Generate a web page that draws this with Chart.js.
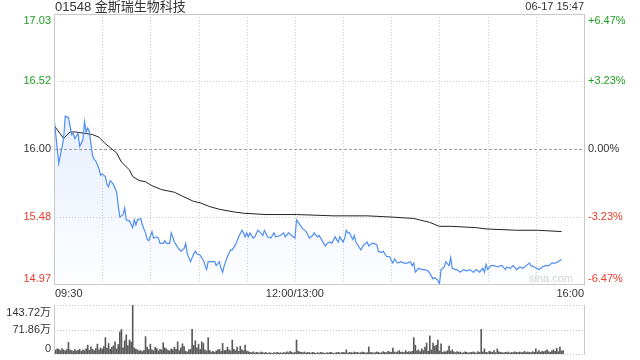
<!DOCTYPE html>
<html lang="zh-CN">
<head>
<meta charset="UTF-8">
<title>01548 金斯瑞生物科技</title>
<script src="https://cdn.jsdelivr.net/npm/chart.js"></script>
<style>
  html, body { margin: 0; padding: 0; background: #fff; }
  #wrap { position: relative; width: 640px; height: 360px; overflow: hidden; }
  #priceChart { position: absolute; left: 0; top: 0; }
  #volChart { position: absolute; left: 0; top: 300px; }
</style>
</head>
<body>
<div id="wrap">
  <canvas id="priceChart" width="640" height="300"></canvas>
  <canvas id="volChart" width="640" height="60"></canvas>
</div>
<script>
const title = '01548 金斯瑞生物科技';
const stamp = '06-17 15:47';
const prevClose = 16.00;
const priceTicks = [17.03, 16.52, 16.00, 15.48, 14.97];
const pctTicks = ['+6.47%', '+3.23%', '0.00%', '-3.23%', '-6.47%'];
const timeLabels = ['09:30', '12:00/13:00', '16:00'];
const timeLabelMinutes = [0, 150, 330];
const volTicks = [143.72, 71.86, 0];
const volTickLabels = ['143.72万', '71.86万', '0'];

// minutes since 09:30 with the lunch break cut out (150 = 12:00/13:00, 330 = 16:00)
const priceMinutes = [0, 3, 6, 7, 9, 11, 12, 13, 15, 16, 18, 19, 20, 21, 22, 24, 25, 26, 28, 29,
  30, 32, 33, 34, 35, 37, 39, 40, 41, 43, 44, 45, 47, 49, 50, 51, 52, 54, 55, 57,
  58, 59, 61, 62, 64, 65, 66, 68, 69, 70, 72, 73, 75, 77, 79, 81, 82, 83, 85, 87,
  88, 89, 91, 93, 95, 96, 98, 100, 101, 103, 104, 105, 106, 108, 110, 111, 113, 115, 117, 118,
  119, 120, 121, 122, 124, 125, 127, 128, 130, 131, 133, 135, 137, 138, 141, 143, 144, 146, 148, 150,
  151, 152, 155, 157, 159, 161, 162, 164, 165, 166, 169, 170, 172, 173, 175, 177, 178, 180, 181, 182,
  183, 184, 186, 187, 188, 190, 191, 193, 195, 196, 198, 199, 201, 202, 204, 205, 207, 209, 210, 211,
  212, 214, 216, 218, 220, 222, 223, 224, 225, 227, 229, 231, 233, 235, 236, 237, 239, 240, 241, 243,
  244, 246, 247, 248, 250, 251, 253, 255, 257, 259, 261, 263, 265, 267, 268, 269, 270, 272, 274, 276,
  278, 279, 281, 282, 284, 286, 288, 290, 292, 294, 296, 297, 299, 302, 304, 306, 308, 310, 312, 314, 316];
const prices = [16.24, 15.89, 16.08, 16.25, 16.24, 16.11, 16.12, 16.08, 16.12, 16.02, 16.07, 16.21, 16.13, 16.16, 16.13, 15.95, 15.92, 15.91, 15.85, 15.80,
  15.81, 15.79, 15.73, 15.71, 15.76, 15.73, 15.67, 15.57, 15.48, 15.50, 15.55, 15.46, 15.45, 15.40, 15.46, 15.42, 15.46, 15.47, 15.42, 15.36,
  15.31, 15.30, 15.37, 15.32, 15.33, 15.32, 15.28, 15.28, 15.30, 15.28, 15.28, 15.36, 15.29, 15.25, 15.22, 15.24, 15.28, 15.20, 15.14, 15.20,
  15.22, 15.20, 15.19, 15.15, 15.08, 15.14, 15.14, 15.14, 15.11, 15.14, 15.09, 15.06, 15.11, 15.18, 15.23, 15.23, 15.27, 15.33, 15.38, 15.36,
  15.33, 15.36, 15.33, 15.36, 15.32, 15.33, 15.38, 15.37, 15.34, 15.38, 15.33, 15.32, 15.36, 15.33, 15.34, 15.36, 15.33, 15.36, 15.34, 15.32,
  15.46, 15.44, 15.39, 15.37, 15.32, 15.34, 15.36, 15.33, 15.34, 15.32, 15.26, 15.28, 15.29, 15.28, 15.33, 15.29, 15.33, 15.29, 15.32, 15.38,
  15.36, 15.36, 15.31, 15.34, 15.29, 15.25, 15.23, 15.27, 15.29, 15.26, 15.28, 15.28, 15.27, 15.22, 15.21, 15.22, 15.18, 15.18, 15.15, 15.13,
  15.16, 15.13, 15.14, 15.13, 15.13, 15.14, 15.11, 15.13, 15.06, 15.09, 15.08, 15.08, 15.07, 15.03, 15.01, 15.02, 15.00, 14.97, 15.08, 15.10,
  15.14, 15.11, 15.17, 15.09, 15.08, 15.08, 15.06, 15.08, 15.07, 15.08, 15.06, 15.08, 15.06, 15.09, 15.06, 15.12, 15.08, 15.11, 15.11, 15.10,
  15.11, 15.11, 15.08, 15.10, 15.09, 15.11, 15.08, 15.10, 15.09, 15.11, 15.13, 15.11, 15.10, 15.08, 15.10, 15.11, 15.11, 15.13, 15.13, 15.14, 15.16];

const avgMinutes = [0, 6, 10, 13, 19, 24, 28, 32, 35, 39, 42, 47, 49, 53, 57, 61, 67, 75, 80, 87,
  91, 97, 103, 112, 118, 132, 151, 174, 195, 211, 224, 234, 240, 247, 263, 269, 288, 301, 316];
const avgPrices = [16.18, 16.08, 16.13, 16.13, 16.12, 16.11, 16.09, 16.04, 16.01, 15.97, 15.90, 15.84, 15.79, 15.76, 15.75, 15.72, 15.69, 15.67, 15.64, 15.60,
  15.59, 15.56, 15.54, 15.52, 15.51, 15.50, 15.50, 15.49, 15.49, 15.48, 15.47, 15.44, 15.41, 15.41, 15.40, 15.39, 15.38, 15.38, 15.37];

// one bar per minute, unit 万 shares
const volumes = [
  48, 12, 15, 14, 10, 16, 12, 9, 14, 34,
  12, 10, 8, 13, 9, 11, 14, 8, 12, 10,
  15, 26, 11, 21, 14, 10, 16, 29, 12, 18,
  14, 22, 48, 17, 31, 14, 20, 24, 36, 15,
  28, 65, 72, 18, 39, 56, 25, 41, 35, 143.72,
  18, 14, 12, 9, 10, 7, 11, 51, 20, 13,
  29, 12, 10, 20, 16, 9, 14, 12, 33, 18,
  15, 11, 9, 15, 12, 20, 14, 36, 10, 18,
  30, 22, 8, 6, 12, 14, 72, 25, 39, 18,
  29, 14, 36, 31, 12, 9, 48, 10, 6, 8,
  5, 9, 12, 14, 8, 31, 10, 11, 20, 12,
  9, 41, 14, 10, 20, 8, 23, 12, 10, 26,
  9, 7, 5, 4, 6, 3, 5, 4, 3, 6,
  4, 3, 5, 2, 4, 3, 2, 4, 3, 5,
  3, 4, 2, 5, 3, 6, 4, 8, 5, 3,
  5, 41, 8, 6, 5, 4, 6, 3, 5, 4,
  3, 5, 4, 2, 4, 3, 5, 4, 3, 2,
  4, 3, 5, 4, 2, 3, 4, 5, 3, 4,
  5, 4, 12, 3, 5, 4, 3, 6, 4, 5,
  3, 4, 6, 5, 3, 4, 21, 5, 4, 3,
  4, 6, 5, 3, 4, 7, 5, 4, 8, 6,
  5, 17, 6, 4, 7, 10, 5, 6, 4, 10,
  5, 7, 6, 8, 48, 26, 9, 12, 7, 15,
  10, 20, 32, 8, 53, 12, 32, 23, 26, 41,
  9, 30, 5, 7, 6, 10, 23, 8, 12, 6,
  4, 7, 5, 6, 3, 4, 6, 5, 3, 4,
  5, 6, 4, 3, 7, 5, 72, 6, 15, 5,
  4, 8, 6, 5, 10, 4, 15, 6, 5, 4,
  3, 5, 4, 6, 3, 5, 4, 6, 5, 4,
  6, 4, 5, 8, 4, 6, 5, 4, 7, 5,
  15, 6, 10, 5, 8, 6, 9, 12, 7, 5,
  9, 12, 8, 17, 7, 20, 9, 10];

const GREEN = '#1e9e1e';
const RED = '#ea3a2c';
const TEXT = '#333';
const FONT = "'Liberation Sans', Arial, 'Noto Sans CJK SC', sans-serif";

function tickColor(v) {
  if (v > prevClose) return GREEN;
  if (v < prevClose) return RED;
  return TEXT;
}

function hline(ctx, x1, x2, y) {
  ctx.beginPath(); ctx.moveTo(x1, y); ctx.lineTo(x2, y); ctx.stroke();
}
function vline(ctx, x, y1, y2) {
  ctx.beginPath(); ctx.moveTo(x, y1); ctx.lineTo(x, y2); ctx.stroke();
}

const priceFrame = {
  id: 'priceFrame',
  beforeDatasetsDraw(chart) {
    const { ctx, chartArea: a, scales: { x, y } } = chart;
    ctx.save();
    ctx.lineWidth = 1;
    ctx.strokeStyle = '#cfcfcf';
    ctx.setLineDash([1, 2]);
    for (let m = 30; m < 330; m += 30) {
      const px = Math.round(x.getPixelForValue(m)) + 0.5;
      vline(ctx, px, a.top, a.bottom);
    }
    priceTicks.forEach((v, i) => {
      if (i === 0 || i === priceTicks.length - 1) return;
      const py = Math.round(y.getPixelForValue(v)) + 0.5;
      if (v === prevClose) {
        ctx.strokeStyle = '#a0a0a0';
        ctx.setLineDash([3, 2]);
      } else {
        ctx.strokeStyle = '#cfcfcf';
        ctx.setLineDash([1, 2]);
      }
      hline(ctx, a.left, a.right, py);
    });
    // watermark
    ctx.setLineDash([]);
    ctx.fillStyle = '#d4d4d4';
    ctx.font = '11px ' + FONT;
    ctx.textAlign = 'right';
    ctx.textBaseline = 'middle';
    ctx.fillText('sina.com', x.getPixelForValue(330) - 11, a.bottom - 5);
    ctx.restore();
  },
  afterDatasetsDraw(chart) {
    const { ctx, chartArea: a, scales: { x, y } } = chart;
    ctx.save();
    ctx.lineWidth = 1;
    ctx.strokeStyle = '#c8c8c8';
    ctx.strokeRect(a.left + 0.5, a.top + 0.5, a.right - a.left, a.bottom - a.top);

    ctx.font = '11px ' + FONT;
    priceTicks.forEach((v, i) => {
      const py = y.getPixelForValue(v);
      ctx.textBaseline = i === 0 ? 'top' : (i === priceTicks.length - 1 ? 'bottom' : 'middle');
      ctx.fillStyle = tickColor(v);
      ctx.textAlign = 'right';
      ctx.fillText(v.toFixed(2), a.left - 3, py + (i === 0 ? 1 : 0));
      ctx.textAlign = 'left';
      ctx.fillText(pctTicks[i], a.right + 4, py + (i === 0 ? 1 : 0));
    });

    ctx.fillStyle = TEXT;
    ctx.textBaseline = 'middle';
    timeLabels.forEach((t, i) => {
      const px = x.getPixelForValue(timeLabelMinutes[i]);
      ctx.textAlign = i === 0 ? 'left' : (i === timeLabels.length - 1 ? 'right' : 'center');
      ctx.fillText(t, px + (i === 0 ? 1 : 0), a.bottom + 10);
    });

    ctx.font = '13px ' + FONT;
    ctx.textAlign = 'left';
    ctx.fillText(title, a.left + 1, 7);
    ctx.font = '11px ' + FONT;
    ctx.textAlign = 'right';
    ctx.fillText(stamp, a.right, 7);
    ctx.restore();
  }
};

const volFrame = {
  id: 'volFrame',
  beforeDatasetsDraw(chart) {
    const { ctx, chartArea: a, scales: { y } } = chart;
    ctx.save();
    ctx.lineWidth = 1;
    ctx.strokeStyle = '#c8c8c8';
    ctx.setLineDash([1, 2]);
    volTicks.forEach(v => {
      const py = Math.round(y.getPixelForValue(v)) + 0.5;
      hline(ctx, a.left, a.right, py);
    });
    ctx.restore();
  },
  afterDatasetsDraw(chart) {
    const { ctx, chartArea: a, scales: { y } } = chart;
    ctx.save();
    ctx.lineWidth = 1;
    ctx.strokeStyle = '#c8c8c8';
    vline(ctx, a.left + 0.5, a.top, a.bottom + 1);
    vline(ctx, a.right + 0.5, a.top, a.bottom + 1);
    ctx.font = '11px ' + FONT;
    ctx.fillStyle = TEXT;
    ctx.textAlign = 'right';
    volTicks.forEach((v, i) => {
      const py = y.getPixelForValue(v);
      ctx.textBaseline = i === 0 ? 'top' : (i === volTicks.length - 1 ? 'bottom' : 'middle');
      ctx.fillText(volTickLabels[i], a.left - 3, py + (i === 0 ? 2 : 0));
    });
    ctx.restore();
  }
};

function blueFill(context) {
  const area = context.chart.chartArea;
  if (!area) return 'rgba(80,140,240,0.15)';
  const g = context.chart.ctx.createLinearGradient(0, area.top, 0, area.bottom);
  g.addColorStop(0, 'rgba(80,140,240,0.22)');
  g.addColorStop(1, 'rgba(80,140,240,0.01)');
  return g;
}

new Chart(document.getElementById('priceChart'), {
  type: 'line',
  data: {
    datasets: [{
      label: '价格',
      data: priceMinutes.map((m, i) => ({ x: m, y: prices[i] })),
      borderColor: '#4f8ef2',
      borderWidth: 1.2,
      backgroundColor: blueFill,
      fill: 'start',
      pointRadius: 0,
      tension: 0
    }, {
      label: '均价',
      data: avgMinutes.map((m, i) => ({ x: m, y: avgPrices[i] })),
      borderColor: '#222',
      borderWidth: 1,
      fill: false,
      pointRadius: 0,
      tension: 0
    }]
  },
  options: {
    responsive: false,
    animation: false,
    layout: { padding: { left: 54, right: 56, top: 14, bottom: 16 } },
    plugins: { legend: { display: false }, tooltip: { enabled: false } },
    scales: {
      x: { type: 'linear', min: 0, max: 330, display: false },
      y: { min: priceTicks[priceTicks.length - 1], max: priceTicks[0], display: false }
    }
  },
  plugins: [priceFrame]
});

new Chart(document.getElementById('volChart'), {
  type: 'bar',
  data: {
    datasets: [{
      label: '成交量',
      data: volumes.map((v, i) => ({ x: i, y: v })),
      backgroundColor: '#5a5a5a',
      barThickness: 1
    }]
  },
  options: {
    responsive: false,
    animation: false,
    layout: { padding: { left: 54, right: 56, top: 5, bottom: 6 } },
    plugins: { legend: { display: false }, tooltip: { enabled: false } },
    scales: {
      x: { type: 'linear', min: 0, max: 330, offset: false, display: false },
      y: { min: 0, max: volTicks[0], display: false }
    }
  },
  plugins: [volFrame]
});
</script>
</body>
</html>
